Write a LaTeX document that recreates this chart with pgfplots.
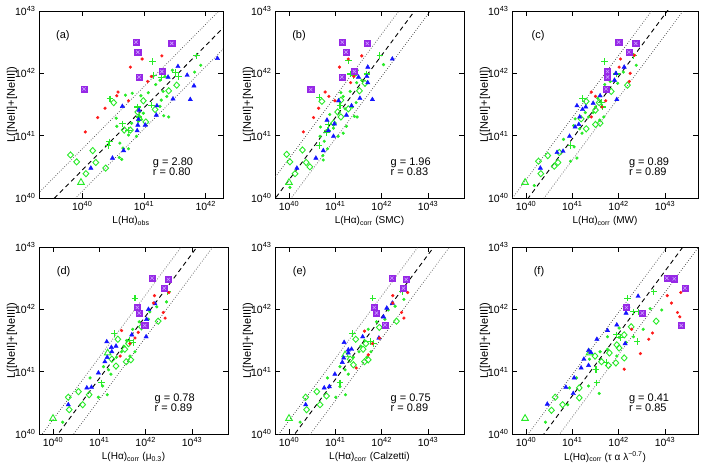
\documentclass[border=0pt]{standalone}
\usepackage{fontspec}
\setmainfont{Liberation Sans}
\usepackage{pgfplots}
\pgfplotsset{compat=1.18}
\definecolor{myred}{RGB}{255,25,25}
\definecolor{myblue}{RGB}{20,20,255}
\definecolor{mygreen}{RGB}{40,235,40}
\definecolor{mypurple}{RGB}{150,40,230}
\definecolor{mylav}{RGB}{205,160,255}
\newcommand{\fs}{\fontsize{11}{13}\selectfont}
\newcommand{\fst}{\fontsize{10.5}{12}\selectfont}
\pgfplotsset{
  panel/.style={scale only axis, anchor=south west, height=187pt,
    ymin=40, ymax=43, ytick={40,41,42,43},
    yticklabels={10\textsuperscript{40},10\textsuperscript{41},10\textsuperscript{42},10\textsuperscript{43}},
    tick align=inside, major tick length=5pt, minor tick num=0,
    xtick pos=both, ytick pos=both,
    axis line style={line width=0.8pt}, major tick style={line width=0.7pt, black},
    tick label style={font=\fst}, label style={font=\fs},
    every axis x label/.style={at={(axis description cs:0.5,-0.123)}, anchor=center}},
  wide/.style={xtick={40,41,42,43},
    xticklabels={10\textsuperscript{40},10\textsuperscript{41},10\textsuperscript{42},10\textsuperscript{43}}},
  reddot/.style={only marks, mark=*, mark size=1.4pt, color=myred},
  bluetri/.style={only marks, mark=triangle*, mark size=2.5pt, color=myblue},
  greendot/.style={only marks, mark=*, mark size=1.4pt, color=mygreen},
  greendia/.style={only marks, mark=diamond, mark size=3.1pt, color=mygreen, line width=0.9pt, mark options={xscale=1.25}},
  greenplus/.style={only marks, mark=+, mark size=3.3pt, color=mygreen, line width=1.1pt},
  purpsq/.style={only marks, mark=square*, mark size=3.1pt, color=mypurple},
  purpx/.style={only marks, mark=x, mark size=2.3pt, color=mylav, line width=0.6pt},
  greentri/.style={only marks, mark=triangle, mark size=3.8pt, color=mygreen, line width=0.9pt},
  fitline/.style={black, line width=0.9pt, dash pattern=on 4.5pt off 3.5pt},
  dotline/.style={black!75, line width=0.7pt, dash pattern=on 0.7pt off 1.8pt},
}
\begin{document}
\begin{tikzpicture}
\useasboundingbox (0,0) rectangle (709pt,472pt);
% y labels
\foreach \xx/\yy in {12/367.5, 248/367.5, 485/367.5, 12/131.5, 248/131.5, 485/131.5}
  \node[font=\fs, rotate=90, anchor=center] at (\xx pt,\yy pt) {L([NeII]+[NeIII])};
% ---------------- (a)
\begin{axis}[panel, at={(39pt,274pt)}, width=184pt, xmin=39.30, xmax=42.28,
  xtick={40,41,42}, xticklabels={10\textsuperscript{40},10\textsuperscript{41},10\textsuperscript{42}},
  xlabel={L(Hα)\textsubscript{obs}}]
\addplot[dotline] coordinates {(39,39.787) (43,43.787)};
\addplot[fitline] coordinates {(39,39.447) (43,43.447)};
\addplot[dotline] coordinates {(39,39.107) (43,43.107)};
\addplot[greendot] coordinates {(41.92,42.13) (41.34,41.95) (41.26,41.89) (41.19,41.82) (41.07,41.69) (40.95,41.64) (40.81,41.68) (40.70,41.65) (41.31,41.71) (41.37,41.63) (41.28,41.57) (41.26,41.47) (41.40,41.30) (41.32,41.32) (40.99,41.36) (40.93,41.31) (40.96,41.26) (40.91,41.23) (40.80,41.20) (40.55,41.28) (40.56,41.15) (40.75,41.01) (40.66,40.80) (40.75,40.79) (40.60,40.65) (40.64,40.62) (40.88,40.99) (40.61,40.88) (41.46,42.05) (41.82,42.02)};
\addplot[greendia] coordinates {(40.51,41.53) (40.99,41.56) (41.18,41.42) (40.90,41.38) (41.03,41.22) (40.78,41.09) (40.68,41.09) (41.53,41.81) (41.40,41.72) (39.81,40.69) (40.17,40.76) (39.91,40.58) (40.22,40.57) (40.06,40.39) (40.38,40.48)};
\addplot[greenplus] coordinates {(41.14,42.19) (41.16,41.97) (41.28,41.93) (41.56,41.95) (41.51,42.01) (40.45,41.59) (40.90,41.46) (41.12,41.49) (40.65,41.19) (40.75,41.09) (40.42,40.84) (40.44,40.90) (41.85,42.28) (40.92,41.30)};
\addplot[greentri] coordinates {(39.98,40.25)};
\addplot[bluetri] coordinates {(41.55,42.11) (42.19,42.24) (41.70,41.97) (41.39,41.94) (41.81,41.80) (41.47,41.59) (41.75,41.58) (41.21,41.48) (40.65,41.47) (40.92,41.41) (40.91,41.26) (40.90,41.17) (41.02,41.17) (40.89,41.08) (41.20,41.33) (40.49,40.64) (40.67,40.76) (40.14,40.48)};
\addplot[reddot] coordinates {(41.29,42.28) (40.97,42.23) (40.78,42.10) (41.12,41.95) (41.06,41.87) (40.58,41.70) (40.56,41.64) (40.75,41.56) (40.37,41.44) (40.25,41.29) (40.05,41.06)};
\addplot[purpsq] coordinates {(40.87,42.50) (41.45,42.48) (40.90,42.34) (40.92,41.94) (41.29,42.03) (40.03,41.75)};
\addplot[purpx] coordinates {(40.87,42.50) (41.45,42.48) (40.90,42.34) (40.92,41.94) (41.29,42.03) (40.03,41.75)};
\node[font=\fs] at (axis description cs:0.13,0.866) {(a)};
\node[font=\fs, anchor=west] at (axis description cs:0.60,0.187) {g = 2.80};
\node[font=\fs, anchor=west] at (axis description cs:0.60,0.139) {r = 0.80};
\end{axis}
% ---------------- (b)
\begin{axis}[panel, wide, at={(275pt,274pt)}, width=189pt, xmin=39.698, xmax=43.777,
  xlabel={L(Hα)\textsubscript{corr} (SMC)}]
\addplot[dotline] coordinates {(39,39.63) (44,44.63)};
\addplot[fitline] coordinates {(39,39.29) (44,44.29)};
\addplot[dotline] coordinates {(39,38.95) (44,43.95)};
\addplot[greendot] coordinates {(42.04,42.14) (41.47,42.05) (41.57,41.89) (41.46,41.85) (41.32,41.71) (41.17,41.63) (41.12,41.69) (41.45,41.53) (41.37,41.46) (41.21,41.43) (41.47,41.30) (41.41,41.31) (40.88,41.34) (40.68,41.14) (40.96,41.12) (41.24,41.15) (40.76,40.91) (40.83,40.79) (40.73,40.68) (40.74,40.61) (41.17,41.04) (40.67,40.99) (41.06,40.99) (40.02,40.17)};
\addplot[greendia] coordinates {(40.71,41.55) (41.12,41.57) (41.28,41.43) (41.05,41.38) (41.12,41.30) (40.96,41.20) (41.52,41.72) (41.64,41.84) (39.95,40.70) (40.29,40.77) (40.02,40.58) (40.37,40.57) (40.13,40.39) (40.45,40.50)};
\addplot[greenplus] coordinates {(41.96,42.29) (41.28,42.20) (41.33,41.99) (41.68,41.99) (40.65,41.61) (41.10,41.48) (40.85,41.18) (40.83,41.09) (40.65,40.84) (40.81,41.05) (41.40,41.97)};
\addplot[greentri] coordinates {(40.0,40.25)};
\addplot[bluetri] coordinates {(42.23,42.23) (41.70,42.10) (41.50,41.94) (41.68,41.95) (41.70,41.85) (41.80,41.58) (41.53,41.60) (41.07,41.56) (41.24,41.33) (40.82,41.25) (40.98,41.19) (40.96,40.99) (40.74,40.76) (40.58,40.64) (40.17,40.48) (41.35,41.48) (40.85,41.08)};
\addplot[reddot] coordinates {(41.57,42.28) (41.28,42.23) (41.09,42.10) (41.40,41.95) (41.33,41.85) (40.78,41.70) (40.86,41.63) (40.99,41.56) (40.64,41.44) (40.53,41.29) (40.31,41.06)};
\addplot[purpsq] coordinates {(41.15,42.50) (41.69,42.48) (41.23,42.34) (41.14,41.94) (41.41,42.03) (40.47,41.74)};
\addplot[purpx] coordinates {(41.15,42.50) (41.69,42.48) (41.23,42.34) (41.14,41.94) (41.41,42.03) (40.47,41.74)};
\node[font=\fs] at (axis description cs:0.127,0.866) {(b)};
\node[font=\fs, anchor=west] at (axis description cs:0.593,0.187) {g = 1.96};
\node[font=\fs, anchor=west] at (axis description cs:0.593,0.139) {r = 0.83};
\end{axis}
% ---------------- (c)
\begin{axis}[panel, wide, at={(512pt,274pt)}, width=186pt, xmin=39.698, xmax=43.713,
  xlabel={L(Hα)\textsubscript{corr} (MW)}]
\addplot[dotline] coordinates {(39,39.29) (44,44.29)};
\addplot[fitline] coordinates {(39,38.95) (44,43.95)};
\addplot[dotline] coordinates {(39,38.61) (44,43.61)};
\addplot[greendot] coordinates {(42.38,42.13) (41.70,41.82) (41.98,41.84) (41.82,41.87) (41.55,41.60) (41.50,41.46) (41.45,41.37) (41.68,41.30) (41.59,41.25) (41.28,41.37) (41.06,41.27) (41.03,41.16) (41.16,41.11) (41.21,41.04) (41.04,40.82) (41.10,40.64) (40.96,40.59) (40.81,40.94) (40.18,40.20) (41.35,41.30) (42.10,42.02)};
\addplot[greendia] coordinates {(42.19,41.81) (41.84,41.71) (41.30,41.55) (41.58,41.53) (41.50,41.41) (41.19,41.27) (41.30,41.11) (41.50,41.18) (41.60,41.20) (40.47,40.68) (40.72,40.73) (40.27,40.59) (40.61,40.51) (40.32,40.39) (40.69,40.57)};
\addplot[greenplus] coordinates {(41.69,42.19) (41.22,41.60) (41.63,41.53) (41.66,41.46) (40.97,40.84) (42.32,42.28) (41.95,41.99)};
\addplot[greentri] coordinates {(39.98,40.25)};
\addplot[bluetri] coordinates {(42.12,42.10) (41.94,42.00) (41.91,41.89) (41.60,41.64) (41.96,41.58) (41.10,41.48) (41.22,41.42) (41.29,41.46) (41.16,41.30) (41.14,41.18) (41.06,41.14) (40.94,40.99) (40.80,40.75) (40.67,40.73) (40.31,40.48) (41.45,41.52)};
\addplot[reddot] coordinates {(42.04,42.23) (42.34,42.29) (42.01,42.10) (42.25,42.00) (42.23,41.87) (41.41,41.70) (41.72,41.56) (41.64,41.46) (41.41,41.30) (41.50,41.63)};
\addplot[purpsq] coordinates {(42.00,42.50) (42.37,42.48) (42.22,42.34) (41.76,42.03) (41.76,41.94) (41.73,41.75)};
\addplot[purpx] coordinates {(42.00,42.50) (42.37,42.48) (42.22,42.34) (41.76,42.03) (41.76,41.94) (41.73,41.75)};
\node[font=\fs] at (axis description cs:0.14,0.866) {(c)};
\node[font=\fs, anchor=west] at (axis description cs:0.61,0.187) {g = 0.89};
\node[font=\fs, anchor=west] at (axis description cs:0.61,0.139) {r = 0.89};
\end{axis}
% ---------------- (d)
\begin{axis}[panel, wide, at={(39pt,38pt)}, width=189pt, xmin=39.698, xmax=43.777,
  xlabel={L(Hα)\textsubscript{corr} (μ\textsubscript{0.3})}]
\addplot[dotline] coordinates {(39,39.232) (44,44.232)};
\addplot[fitline] coordinates {(39,38.892) (44,43.892)};
\addplot[dotline] coordinates {(39,38.552) (44,43.552)};
\addplot[greendot] coordinates {(42.45,42.12) (42.09,41.96) (42.06,41.84) (41.86,41.80) (41.72,41.68) (41.59,41.50) (41.53,41.41) (41.48,41.32) (41.77,41.32) (41.66,41.25) (41.37,41.23) (41.09,41.08) (41.20,41.03) (41.25,40.96) (40.80,40.90) (41.07,40.77) (41.17,40.63) (40.98,40.59) (40.21,40.19) (42.24,42.04)};
\addplot[greendia] coordinates {(42.27,41.81) (41.91,41.72) (41.40,41.52) (41.63,41.45) (41.55,41.36) (41.27,41.20) (41.36,41.09) (41.58,41.16) (41.68,41.19) (40.55,40.68) (40.78,40.63) (40.33,40.59) (40.64,40.47) (40.35,40.39)};
\addplot[greenplus] coordinates {(41.77,42.18) (41.32,41.61) (41.66,41.50) (41.73,41.47) (41.05,40.82) (42.47,42.28)};
\addplot[greentri] coordinates {(40.0,40.25) (41.18,41.30)};
\addplot[bluetri] coordinates {(42.20,42.09) (42.06,42.00) (42.02,41.84) (41.70,41.59) (42.01,41.56) (41.16,41.48) (41.26,41.39) (41.36,41.41) (41.27,41.32) (41.17,41.23) (41.12,41.16) (40.98,40.98) (40.83,40.75) (40.73,40.74) (40.33,40.47)};
\addplot[reddot] coordinates {(42.19,42.22) (42.50,42.27) (42.17,42.10) (42.38,41.95) (42.42,41.86) (41.84,41.63) (41.48,41.66) (41.77,41.54) (41.66,41.45) (41.45,41.25)};
\addplot[purpsq] coordinates {(42.14,42.50) (42.49,42.48) (42.40,42.34) (41.82,42.03) (41.86,41.94) (41.98,41.74)};
\addplot[purpx] coordinates {(42.14,42.50) (42.49,42.48) (42.40,42.34) (41.82,42.03) (41.86,41.94) (41.98,41.74)};
\node[font=\fs] at (axis description cs:0.13,0.866) {(d)};
\node[font=\fs, anchor=west] at (axis description cs:0.593,0.187) {g = 0.78};
\node[font=\fs, anchor=west] at (axis description cs:0.593,0.139) {r = 0.89};
\end{axis}
% ---------------- (e)
\begin{axis}[panel, wide, at={(275pt,38pt)}, width=189pt, xmin=39.698, xmax=43.777,
  xlabel={L(Hα)\textsubscript{corr} (Calzetti)}]
\addplot[dotline] coordinates {(39,39.215) (44,44.215)};
\addplot[fitline] coordinates {(39,38.875) (44,43.875)};
\addplot[dotline] coordinates {(39,38.535) (44,43.535)};
\addplot[greendot] coordinates {(42.48,42.16) (42.29,42.05) (42.14,41.99) (42.07,41.84) (41.89,41.80) (41.71,41.68) (41.63,41.50) (41.55,41.41) (41.51,41.32) (41.77,41.32) (41.68,41.23) (41.39,41.23) (41.10,41.08) (41.21,41.03) (41.28,40.96) (40.83,40.90) (41.10,40.76) (41.22,40.63) (41.01,40.59) (40.24,40.19)};
\addplot[greendia] coordinates {(42.32,41.81) (41.95,41.71) (41.44,41.52) (41.66,41.45) (41.60,41.36) (41.32,41.20) (41.39,41.11) (41.63,41.16) (41.71,41.19) (40.60,40.68) (40.81,40.61) (40.36,40.59) (40.67,40.47) (40.38,40.39)};
\addplot[greenplus] coordinates {(41.81,42.18) (41.37,41.61) (41.75,41.48) (41.82,41.45) (41.10,40.82) (42.45,42.28)};
\addplot[greentri] coordinates {(40.0,40.25) (41.21,41.27)};
\addplot[bluetri] coordinates {(42.23,42.10) (42.11,42.02) (42.04,41.88) (41.59,41.56) (41.94,41.54) (41.19,41.47) (41.28,41.35) (41.35,41.36) (41.28,41.30) (41.18,41.22) (41.15,41.15) (40.99,40.96) (40.87,40.76) (40.76,40.74) (40.36,40.47)};
\addplot[reddot] coordinates {(42.24,42.22) (42.56,42.27) (42.24,42.10) (42.43,41.95) (42.48,41.86) (41.63,41.65) (41.95,41.54) (41.80,41.45) (41.71,41.27) (41.45,41.06)};
\addplot[purpsq] coordinates {(42.22,42.50) (42.53,42.48) (42.47,42.34) (41.84,42.03) (41.89,41.94) (42.07,41.75)};
\addplot[purpx] coordinates {(42.22,42.50) (42.53,42.48) (42.47,42.34) (41.84,42.03) (41.89,41.94) (42.07,41.75)};
\node[font=\fs] at (axis description cs:0.13,0.866) {(e)};
\node[font=\fs, anchor=west] at (axis description cs:0.593,0.187) {g = 0.75};
\node[font=\fs, anchor=west] at (axis description cs:0.593,0.139) {r = 0.89};
\end{axis}
% ---------------- (f)
\begin{axis}[panel, wide, at={(512pt,38pt)}, width=186pt, xmin=39.698, xmax=43.713,
  xlabel={L(Hα)\textsubscript{corr} (τ α λ\textsuperscript{−0.7})}]
\addplot[dotline] coordinates {(39,38.953) (44,43.953)};
\addplot[fitline] coordinates {(39,38.613) (44,43.613)};
\addplot[dotline] coordinates {(39,38.273) (44,43.273)};
\addplot[greendot] coordinates {(42.93,41.99) (42.53,41.68) (42.32,41.56) (42.01,41.70) (42.01,41.55) (42.16,41.47) (41.76,41.36) (41.60,41.32) (41.96,41.25) (41.37,41.20) (41.09,40.90) (41.35,40.77) (41.58,40.65) (40.94,40.74) (40.90,40.47) (40.42,40.19) (42.68,42.01) (41.76,41.56)};
\addplot[greendia] coordinates {(42.81,41.81) (42.27,41.72) (42.12,41.59) (41.96,41.43) (42.01,41.38) (41.80,41.30) (41.63,41.16) (41.78,41.10) (41.94,41.14) (42.12,41.22) (40.63,40.59) (40.79,40.47) (40.55,40.38) (41.15,40.74) (41.15,40.58) (41.49,41.25)};
\addplot[greenplus] coordinates {(42.19,42.18) (42.76,42.28) (42.32,41.96) (42.42,41.96) (41.96,41.59) (42.04,41.55) (41.73,41.15) (41.51,41.03) (41.53,40.82) (42.40,41.48)};
\addplot[greentri] coordinates {(39.98,40.25) (41.37,41.30)};
\addplot[bluetri] coordinates {(42.42,42.21) (42.16,41.94) (41.96,41.75) (41.76,41.66) (42.14,41.45) (41.53,41.52) (41.35,41.34) (41.40,41.31) (41.25,41.20) (41.35,41.10) (41.19,41.06) (41.04,40.90) (40.86,40.75) (41.02,40.65) (40.46,40.48) (42.20,42.05)};
\addplot[reddot] coordinates {(43.05,42.22) (43.34,42.27) (43.14,42.10) (43.27,41.95) (43.32,41.88) (42.73,41.62) (42.65,41.52) (42.28,41.68) (42.47,41.29) (42.12,41.04)};
\addplot[purpsq] coordinates {(43.04,42.50) (43.20,42.49) (43.43,42.34) (42.17,42.03) (42.51,41.94) (43.35,41.74)};
\addplot[purpx] coordinates {(43.04,42.50) (43.20,42.49) (43.43,42.34) (42.17,42.03) (42.51,41.94) (43.35,41.74)};
\node[font=\fs] at (axis description cs:0.145,0.866) {(f)};
\node[font=\fs, anchor=west] at (axis description cs:0.61,0.187) {g = 0.41};
\node[font=\fs, anchor=west] at (axis description cs:0.61,0.139) {r = 0.85};
\end{axis}
\end{tikzpicture}
\end{document}
